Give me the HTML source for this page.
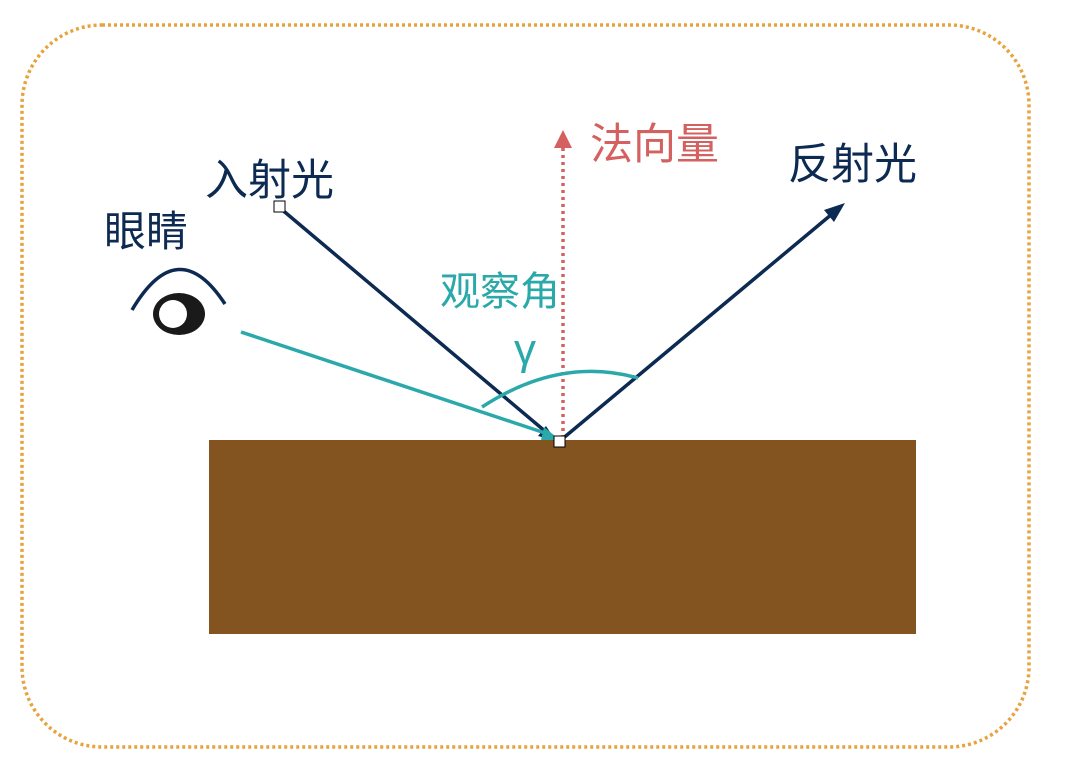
<!DOCTYPE html>
<html><head><meta charset="utf-8"><style>
body{margin:0;width:1070px;height:776px;background:#fff;overflow:hidden;}
</style></head><body>
<svg width="1070" height="776" xmlns="http://www.w3.org/2000/svg" style="position:absolute;left:0;top:0">
<rect x="22" y="25" width="1007" height="722" rx="80" ry="80" fill="none" stroke="#e8a33e" stroke-width="3.5" stroke-dasharray="3,3"/>
<rect x="209" y="440" width="707" height="194" fill="#845420"/>
<g font-family="Liberation Sans, Noto Sans CJK SC, sans-serif" font-size="43">
<text x="205" y="195" fill="#0d2a52">入射光</text>
<text x="104" y="246" fill="#0d2a52" font-size="42">眼睛</text>
<text x="788" y="179" fill="#0d2a52">反射光</text>
<text x="590" y="159" fill="#d46060">法向量</text>
<text x="440" y="305" fill="#2aa8aa" font-size="40">观察角</text>
<text x="514" y="364" fill="#2aa8aa" font-size="44">γ</text>
</g>
<line x1="563" y1="438" x2="563" y2="148" stroke="#d46060" stroke-width="3.5" stroke-dasharray="3,4"/>
<polygon points="563,130 554,148 572,148" fill="#d46060"/>
<line x1="280" y1="208" x2="546" y2="432" stroke="#0d2a52" stroke-width="3.5"/>
<polygon points="556,441 538,436 546,426" fill="#0d2a52"/>
<line x1="561" y1="440" x2="832" y2="214" stroke="#0d2a52" stroke-width="3.5"/>
<polygon points="845,203 824,210 834,222" fill="#0d2a52"/>
<line x1="241" y1="332" x2="545" y2="433" stroke="#2aa8aa" stroke-width="3.5"/>
<polygon points="560,440 544,427 541,440" fill="#2aa8aa"/>
<path d="M482,407 Q560,356 638,378" fill="none" stroke="#2aa8aa" stroke-width="3.5"/>
<path d="M132,310 Q178,232 225,304" fill="none" stroke="#0d2a52" stroke-width="3.5"/>
<ellipse cx="179" cy="314" rx="26" ry="21" fill="#1a1a1a"/>
<circle cx="173" cy="314" r="14" fill="#fff"/>
<rect x="274" y="201" width="11" height="11" fill="#fff" stroke="#000" stroke-width="1"/>
<rect x="554" y="436" width="11" height="11" fill="#fff" stroke="#000" stroke-width="1"/>
</svg>
</body></html>
